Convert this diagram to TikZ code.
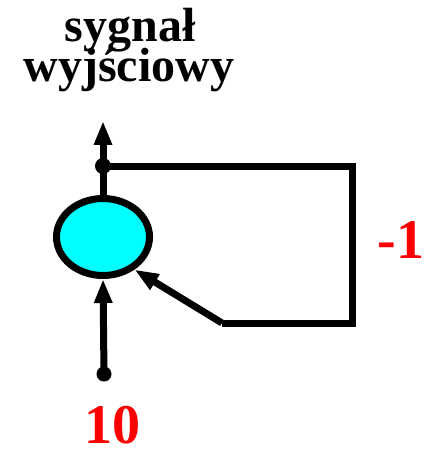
\documentclass[tikz,border=0pt]{standalone}
\usepackage{fontspec}
\setmainfont{Liberation Serif}
\usetikzlibrary{arrows.meta,shapes.geometric}
\definecolor{sumfill}{HTML}{00FFFF}
\definecolor{gainred}{HTML}{FF0000}
\tikzset{
  sumnode/.style={ellipse, draw=black, line width=7pt, fill=sumfill,
                  minimum width=93pt, minimum height=77pt, inner sep=0pt},
  dotnode/.style={circle, fill=black, inner sep=0pt, minimum size=16pt},
  titletxt/.style={anchor=base, inner sep=0pt, font=\fontsize{48}{48}\selectfont\bfseries},
  gaintxt/.style={anchor=base, inner sep=0pt, text=gainred,
                  font=\fontsize{56}{56}\selectfont\bfseries},
  wire/.style={line width=7pt},
  arr/.style={-{Triangle[length=24pt,width=17pt]}, line width=7pt}}

\begin{document}
\begin{tikzpicture}[x=1pt, y=-1pt]
    \useasboundingbox (0,0) rectangle (430,449);
    \node[sumnode] (sum) at (103,237) {};
    \node[dotnode] (top) at (103,166) {};
    \node[dotnode, minimum size=15pt] (in) at (104,374) {};
    \coordinate (out) at (103,121);
    \coordinate (c1) at (352,166);
    \coordinate (c2) at (352,323);
    \coordinate (c3) at (222,323);
    \node[titletxt] (t1) at (130,42) {sygnał};
    \node[titletxt] (t2) at (129,82) {wyjściowy};
    \node[gaintxt] (g) at (401,258) {-1};
    \node[gaintxt] (x) at (112,443) {10};
    \draw[arr] (sum.north) -- (out);
    \draw[wire] (top.center) -- (c1) -- (c2) -- (c3);
    \draw[arr] (c3) -- (sum.-46);
    \draw[arr] (in.center) -- (sum.south);
  \end{tikzpicture}
\end{document}
